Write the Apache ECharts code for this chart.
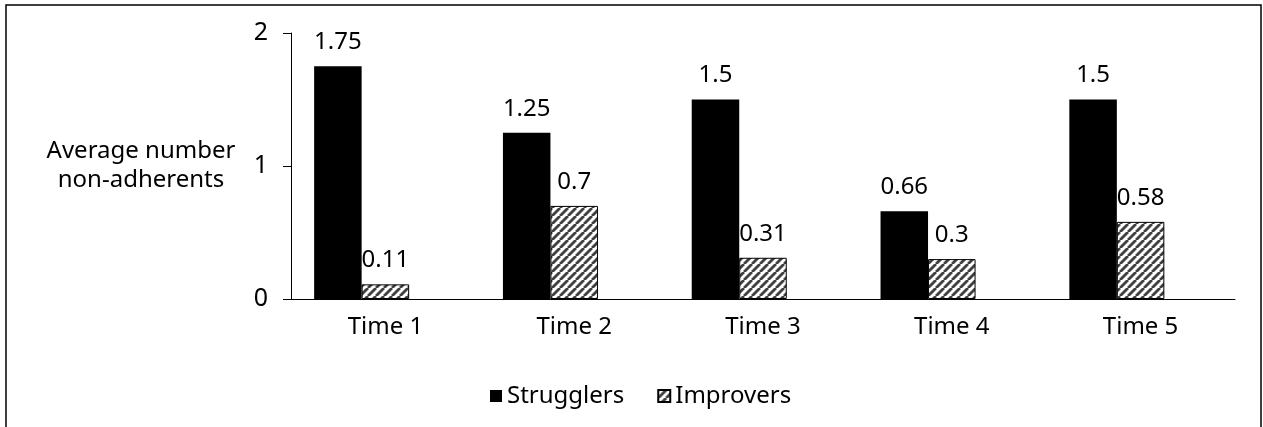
<!DOCTYPE html>
<html>
<head>
<meta charset="utf-8">
<script src="https://cdn.jsdelivr.net/npm/echarts@6/dist/echarts.min.js"></script>
<style>html,body{margin:0;padding:0;background:#fff;}#c{width:1263px;height:427px;}</style>
</head>
<body>
<div id="c"></div>
<script>
const categories = ['Time 1', 'Time 2', 'Time 3', 'Time 4', 'Time 5'];
const strugglers = [1.75, 1.25, 1.5, 0.66, 1.5];
const improvers = [0.11, 0.7, 0.31, 0.3, 0.58];
const yTicks = [0, 1, 2];
const yAxisName = 'Average number\nnon-adherents';

function hatch() {
  const c = document.createElement('canvas');
  c.width = 8; c.height = 8;
  const g = c.getContext('2d');
  g.fillStyle = '#fff'; g.fillRect(0, 0, 8, 8);
  g.strokeStyle = '#404040'; g.lineWidth = 2.8;
  for (let k = -1; k <= 1; k++) {
    g.beginPath(); g.moveTo(k * 8, 8); g.lineTo(k * 8 + 8, 0); g.stroke();
  }
  return c;
}
const pat = { image: hatch(), repeat: 'repeat' };
const FONT = 'Noto Sans';
const chart = echarts.init(document.getElementById('c'));
chart.setOption({
  animation: false,
  textStyle: { fontFamily: FONT, color: '#000' },
  graphic: [{ type: 'rect', shape: { x: 6, y: 5, width: 1255, height: 460 }, style: { fill: 'none', stroke: '#000', lineWidth: 1.5 }, silent: true }],
  grid: { left: 291, right: 28, top: 33, bottom: 128 },
  legend: {
    data: ['Strugglers', 'Improvers'],
    top: 379, left: 485,
    itemWidth: 12, itemHeight: 12, itemGap: 33,
    icon: 'rect',
    textStyle: { fontFamily: FONT, fontSize: 24, color: '#000' }
  },
  xAxis: {
    type: 'category', data: categories,
    axisLine: { lineStyle: { color: '#000', width: 1 } },
    axisTick: { show: false },
    axisLabel: { fontFamily: FONT, fontSize: 24, color: '#000', margin: 16 }
  },
  yAxis: {
    type: 'value', min: 0, max: 2, interval: 1,
    name: yAxisName, nameLocation: 'middle', nameRotate: 0, nameGap: 150,
    nameTextStyle: { fontFamily: FONT, fontSize: 24, color: '#000', align: 'center', lineHeight: 29 },
    axisLine: { show: true, lineStyle: { color: '#000', width: 1 } },
    axisTick: { show: true, length: 8, lineStyle: { color: '#000' } },
    splitLine: { show: false },
    axisLabel: { fontFamily: FONT, fontSize: 25, color: '#000', margin: 23, formatter: v => yTicks.includes(v) ? String(v) : '' }
  },
  series: [
    { name: 'Strugglers', type: 'bar', data: strugglers, barGap: '0%', barCategoryGap: '24.5%',
      itemStyle: { color: '#000' },
      label: { show: true, position: 'top', distance: 12, fontFamily: FONT, fontSize: 24, color: '#000' } },
    { name: 'Improvers', type: 'bar', data: improvers,
      itemStyle: { color: pat, borderColor: '#000', borderWidth: 1 },
      label: { show: true, position: 'top', distance: 12, fontFamily: FONT, fontSize: 24, color: '#000' } },
    { name: '_pad', type: 'bar', data: categories.map(() => null) }
  ]
});
</script>
</body>
</html>
